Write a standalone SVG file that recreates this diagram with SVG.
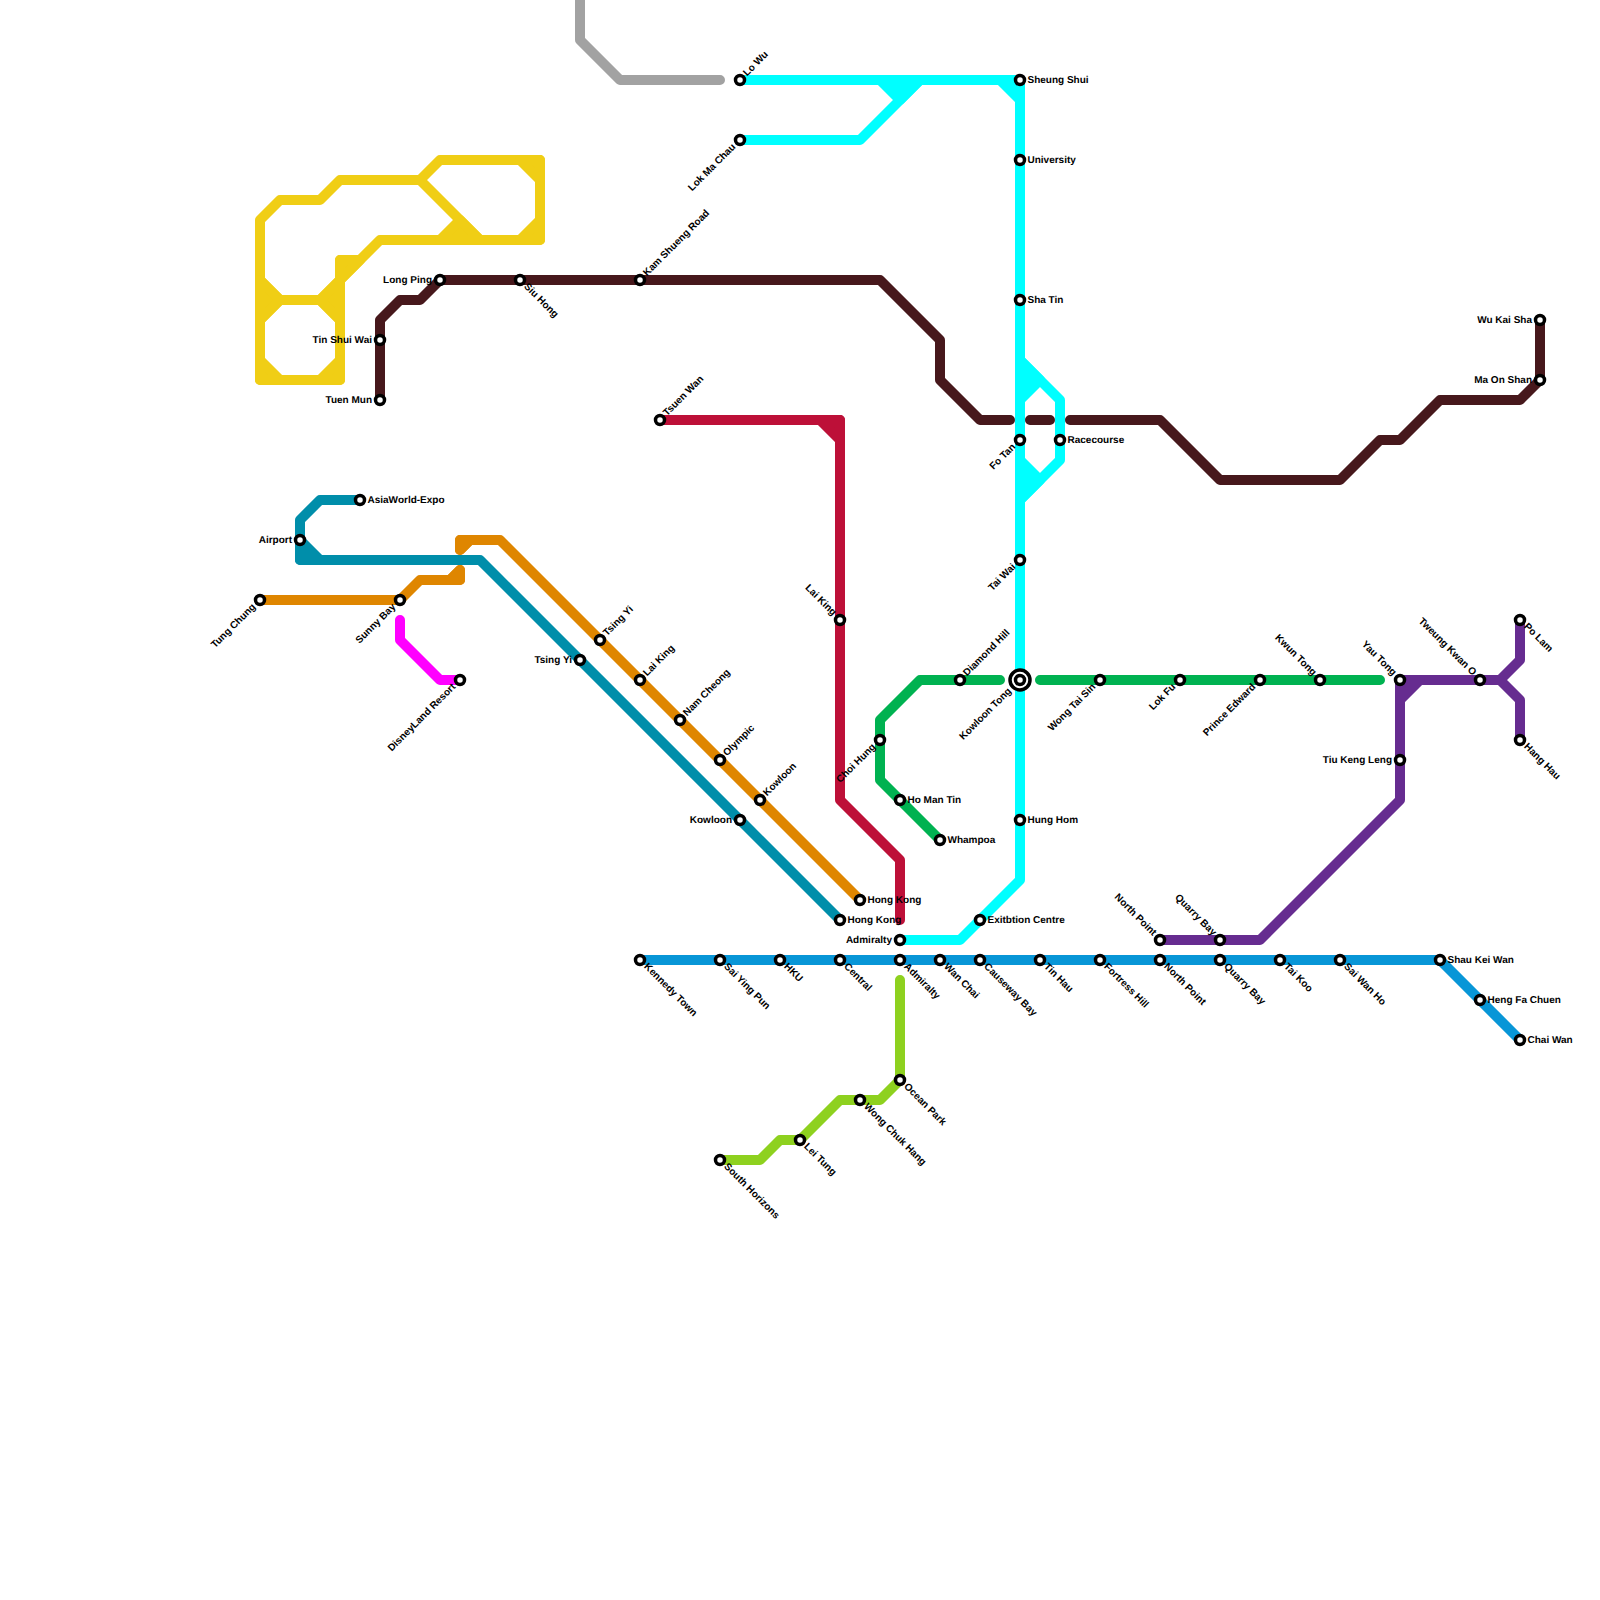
<svg xmlns="http://www.w3.org/2000/svg" width="1600" height="1600" viewBox="0 0 1600 1600">
<style>
.l{fill:none;stroke-width:10;stroke-linecap:round;stroke-linejoin:round}
.t{stroke-width:10;stroke-linejoin:round}
.s{fill:#fff;stroke:#000;stroke-width:3.5}
.h{fill:#fff;stroke:#000;stroke-width:3.5}
text{font-family:"Liberation Sans",Arial,sans-serif;font-size:10px;font-weight:700;fill:#000;text-rendering:geometricPrecision}
.e{text-anchor:end}
</style>
<rect width="1600" height="1600" fill="#fff"/>
<g id="connectors">
<path class="l" stroke="#a2a2a2" d="M580 0V40L620 80H720"/>
<path class="l" stroke="#f0ce15" d="M260 220L280 200H320L340 180H420L440 160H540V240H380L340 280V380H260ZM420 180L480 240M260 280L280 300H320L340 320M260 320L280 300M320 300L360 260H340V280"/>
<path class="t" stroke="#f0ce15" fill="#f0ce15" d="M440 240L460 220L480 240ZM520 160H540V180ZM540 220V240H520ZM260 280L280 300L260 320ZM320 300L340 280V320ZM340 260H360L340 280ZM260 360L280 380H260ZM320 380L340 360V380Z"/>
<path class="l" stroke="#47181c" d="M380 400V320L400 300H420L440 280H880L940 340V380L980 420H1010M1030 420H1050M1070 420H1160L1220 480H1340L1380 440H1400L1440 400H1520L1540 380V320"/>
<path class="l" stroke="#00ffff" d="M740 80H1020V880L960 940H900M740 140H860L920 80M1020 360L1060 400V460L1020 500"/>
<path class="t" stroke="#00ffff" fill="#00ffff" d="M880 80H920L900 100ZM1000 80H1020V100ZM1020 360L1040 380L1020 400ZM1020 460L1040 480L1020 500Z"/>
<path class="l" stroke="#bd1038" d="M660 420H840V800L900 860V920"/>
<path class="t" stroke="#bd1038" fill="#bd1038" d="M820 420H840V440Z"/>
<path class="l" stroke="#df8600" d="M860 900L500 540H460V550L470 540M260 600H400L420 580H460V570L450 580"/>
<path class="t" stroke="#df8600" fill="#df8600" d="M460 540H470L460 550ZM450 580L460 570V580Z"/>
<path class="l" stroke="#008eaa" d="M360 500H320L300 520V560H480L840 920"/>
<path class="t" stroke="#008eaa" fill="#008eaa" d="M300 540L320 560H300Z"/>
<path class="l" stroke="#ff00ff" d="M400 620V640L440 680H460"/>
<path class="l" stroke="#0896d7" d="M640 960H1440L1520 1040"/>
<path class="l" stroke="#8ed11f" d="M900 980V1080L880 1100H840L800 1140H780L760 1160H720"/>
<path class="l" stroke="#00b251" d="M1000 680H920L880 720V780L940 840M1040 680H1380"/>
<path class="l" stroke="#662c90" d="M1160 940H1260L1400 800V680H1500L1520 660V620M1500 680L1520 700V740"/>
<path class="t" stroke="#662c90" fill="#662c90" d="M1400 680H1420L1400 700Z"/>
</g>
<g id="s1"><circle class="s" cx="740" cy="80" r="4.5"/><text transform="translate(740 80) rotate(-45)" x="7.5" y="2.5">Lo Wu</text></g>
<g id="s2"><circle class="s" cx="740" cy="140" r="4.5"/><text class="e" transform="translate(740 140) rotate(-45)" x="-8" y="2.5">Lok Ma Chau</text></g>
<g id="s3"><circle class="s" cx="1020" cy="80" r="4.5"/><text x="1027.5" y="82.5">Sheung Shui</text></g>
<g id="s4"><circle class="s" cx="1020" cy="160" r="4.5"/><text x="1027.5" y="162.5">University</text></g>
<g id="s5"><circle class="s" cx="1020" cy="300" r="4.5"/><text x="1027.5" y="302.5">Sha Tin</text></g>
<g id="s6"><circle class="s" cx="1020" cy="440" r="4.5"/><text class="e" transform="translate(1020 440) rotate(-45)" x="-8" y="2.5">Fo Tan</text></g>
<g id="s7"><circle class="s" cx="1060" cy="440" r="4.5"/><text x="1067.5" y="442.5">Racecourse</text></g>
<g id="s8"><circle class="s" cx="1020" cy="560" r="4.5"/><text class="e" transform="translate(1020 560) rotate(-45)" x="-8" y="2.5">Tai Wai</text></g>
<g id="s9"><circle class="h" cx="1020" cy="680" r="10"/><circle class="s" cx="1020" cy="680" r="4.5"/><text class="e" transform="translate(1020 680) rotate(-45)" x="-14" y="2.5">Kowloon Tong</text></g>
<g id="s10"><circle class="s" cx="1020" cy="820" r="4.5"/><text x="1027.5" y="822.5">Hung Hom</text></g>
<g id="s11"><circle class="s" cx="980" cy="920" r="4.5"/><text x="987.5" y="922.5">Exitbtion Centre</text></g>
<g id="s12"><circle class="s" cx="900" cy="940" r="4.5"/><text class="e" x="892" y="942.5">Admiralty</text></g>
<g id="s13"><circle class="s" cx="960" cy="680" r="4.5"/><text transform="translate(960 680) rotate(-45)" x="7.5" y="2.5">Diamond Hill</text></g>
<g id="s14"><circle class="s" cx="880" cy="740" r="4.5"/><text class="e" transform="translate(880 740) rotate(-45)" x="-8" y="2.5">Choi Hung</text></g>
<g id="s15"><circle class="s" cx="900" cy="800" r="4.5"/><text x="907.5" y="802.5">Ho Man Tin</text></g>
<g id="s16"><circle class="s" cx="940" cy="840" r="4.5"/><text x="947.5" y="842.5">Whampoa</text></g>
<g id="s17"><circle class="s" cx="1100" cy="680" r="4.5"/><text class="e" transform="translate(1100 680) rotate(-45)" x="-8" y="2.5">Wong Tai Sin</text></g>
<g id="s18"><circle class="s" cx="1180" cy="680" r="4.5"/><text class="e" transform="translate(1180 680) rotate(-45)" x="-8" y="2.5">Lok Fu</text></g>
<g id="s19"><circle class="s" cx="1260" cy="680" r="4.5"/><text class="e" transform="translate(1260 680) rotate(-45)" x="-8" y="2.5">Prince Edward</text></g>
<g id="s20"><circle class="s" cx="1320" cy="680" r="4.5"/><text class="e" transform="translate(1320 680) rotate(45)" x="-8" y="2.5">Kwun Tong</text></g>
<g id="s21"><circle class="s" cx="1400" cy="680" r="4.5"/><text class="e" transform="translate(1400 680) rotate(45)" x="-8" y="2.5">Yau Tong</text></g>
<g id="s22"><circle class="s" cx="1400" cy="760" r="4.5"/><text class="e" x="1392" y="762.5">Tiu Keng Leng</text></g>
<g id="s23"><circle class="s" cx="1480" cy="680" r="4.5"/><text class="e" transform="translate(1480 680) rotate(45)" x="-8" y="2.5">Tweung Kwan O</text></g>
<g id="s24"><circle class="s" cx="1520" cy="620" r="4.5"/><text transform="translate(1520 620) rotate(45)" x="7.5" y="2.5">Po Lam</text></g>
<g id="s25"><circle class="s" cx="1520" cy="740" r="4.5"/><text transform="translate(1520 740) rotate(45)" x="7.5" y="2.5">Hang Hau</text></g>
<g id="s26"><circle class="s" cx="1540" cy="320" r="4.5"/><text class="e" x="1532" y="322.5">Wu Kai Sha</text></g>
<g id="s27"><circle class="s" cx="1540" cy="380" r="4.5"/><text class="e" x="1532" y="382.5">Ma On Shan</text></g>
<g id="s28"><circle class="s" cx="1160" cy="940" r="4.5"/><text class="e" transform="translate(1160 940) rotate(45)" x="-8" y="2.5">North Point</text></g>
<g id="s29"><circle class="s" cx="1220" cy="940" r="4.5"/><text class="e" transform="translate(1220 940) rotate(45)" x="-8" y="2.5">Quarry Bay</text></g>
<g id="s30"><circle class="s" cx="640" cy="960" r="4.5"/><text transform="translate(640 960) rotate(45)" x="7.5" y="2.5">Kennedy Town</text></g>
<g id="s31"><circle class="s" cx="720" cy="960" r="4.5"/><text transform="translate(720 960) rotate(45)" x="7.5" y="2.5">Sai Ying Pun</text></g>
<g id="s32"><circle class="s" cx="780" cy="960" r="4.5"/><text transform="translate(780 960) rotate(45)" x="7.5" y="2.5">HKU</text></g>
<g id="s33"><circle class="s" cx="840" cy="960" r="4.5"/><text transform="translate(840 960) rotate(45)" x="7.5" y="2.5">Central</text></g>
<g id="s34"><circle class="s" cx="900" cy="960" r="4.5"/><text transform="translate(900 960) rotate(45)" x="7.5" y="2.5">Admiralty</text></g>
<g id="s35"><circle class="s" cx="940" cy="960" r="4.5"/><text transform="translate(940 960) rotate(45)" x="7.5" y="2.5">Wan Chai</text></g>
<g id="s36"><circle class="s" cx="980" cy="960" r="4.5"/><text transform="translate(980 960) rotate(45)" x="7.5" y="2.5">Causeway Bay</text></g>
<g id="s37"><circle class="s" cx="1040" cy="960" r="4.5"/><text transform="translate(1040 960) rotate(45)" x="7.5" y="2.5">Tin Hau</text></g>
<g id="s38"><circle class="s" cx="1100" cy="960" r="4.5"/><text transform="translate(1100 960) rotate(45)" x="7.5" y="2.5">Fortress Hill</text></g>
<g id="s39"><circle class="s" cx="1160" cy="960" r="4.5"/><text transform="translate(1160 960) rotate(45)" x="7.5" y="2.5">North Point</text></g>
<g id="s40"><circle class="s" cx="1220" cy="960" r="4.5"/><text transform="translate(1220 960) rotate(45)" x="7.5" y="2.5">Quarry Bay</text></g>
<g id="s41"><circle class="s" cx="1280" cy="960" r="4.5"/><text transform="translate(1280 960) rotate(45)" x="7.5" y="2.5">Tai Koo</text></g>
<g id="s42"><circle class="s" cx="1340" cy="960" r="4.5"/><text transform="translate(1340 960) rotate(45)" x="7.5" y="2.5">Sai Wan Ho</text></g>
<g id="s43"><circle class="s" cx="1440" cy="960" r="4.5"/><text x="1447.5" y="962.5">Shau Kei Wan</text></g>
<g id="s44"><circle class="s" cx="1480" cy="1000" r="4.5"/><text x="1487.5" y="1002.5">Heng Fa Chuen</text></g>
<g id="s45"><circle class="s" cx="1520" cy="1040" r="4.5"/><text x="1527.5" y="1042.5">Chai Wan</text></g>
<g id="s46"><circle class="s" cx="900" cy="1080" r="4.5"/><text transform="translate(900 1080) rotate(45)" x="7.5" y="2.5">Ocean Park</text></g>
<g id="s47"><circle class="s" cx="860" cy="1100" r="4.5"/><text transform="translate(860 1100) rotate(45)" x="7.5" y="2.5">Wong Chuk Hang</text></g>
<g id="s48"><circle class="s" cx="800" cy="1140" r="4.5"/><text transform="translate(800 1140) rotate(45)" x="7.5" y="2.5">Lei Tung</text></g>
<g id="s49"><circle class="s" cx="720" cy="1160" r="4.5"/><text transform="translate(720 1160) rotate(45)" x="7.5" y="2.5">South Horizons</text></g>
<g id="s50"><circle class="s" cx="860" cy="900" r="4.5"/><text x="867.5" y="902.5">Hong Kong</text></g>
<g id="s51"><circle class="s" cx="840" cy="920" r="4.5"/><text x="847.5" y="922.5">Hong Kong</text></g>
<g id="s52"><circle class="s" cx="740" cy="820" r="4.5"/><text class="e" x="732" y="822.5">Kowloon</text></g>
<g id="s53"><circle class="s" cx="760" cy="800" r="4.5"/><text transform="translate(760 800) rotate(-45)" x="7.5" y="2.5">Kowloon</text></g>
<g id="s54"><circle class="s" cx="720" cy="760" r="4.5"/><text transform="translate(720 760) rotate(-45)" x="7.5" y="2.5">Olympic</text></g>
<g id="s55"><circle class="s" cx="680" cy="720" r="4.5"/><text transform="translate(680 720) rotate(-45)" x="7.5" y="2.5">Nam Cheong</text></g>
<g id="s56"><circle class="s" cx="640" cy="680" r="4.5"/><text transform="translate(640 680) rotate(-45)" x="7.5" y="2.5">Lai King</text></g>
<g id="s57"><circle class="s" cx="600" cy="640" r="4.5"/><text transform="translate(600 640) rotate(-45)" x="7.5" y="2.5">Tsing Yi</text></g>
<g id="s58"><circle class="s" cx="580" cy="660" r="4.5"/><text class="e" x="572" y="662.5">Tsing Yi</text></g>
<g id="s59"><circle class="s" cx="400" cy="600" r="4.5"/><text class="e" transform="translate(400 600) rotate(-45)" x="-8" y="2.5">Sunny Bay</text></g>
<g id="s60"><circle class="s" cx="260" cy="600" r="4.5"/><text class="e" transform="translate(260 600) rotate(-45)" x="-8" y="2.5">Tung Chung</text></g>
<g id="s61"><circle class="s" cx="460" cy="680" r="4.5"/><text class="e" transform="translate(460 680) rotate(-45)" x="-8" y="2.5">DisneyLand Resort</text></g>
<g id="s62"><circle class="s" cx="300" cy="540" r="4.5"/><text class="e" x="292" y="542.5">Airport</text></g>
<g id="s63"><circle class="s" cx="360" cy="500" r="4.5"/><text x="367.5" y="502.5">AsiaWorld-Expo</text></g>
<g id="s64"><circle class="s" cx="660" cy="420" r="4.5"/><text transform="translate(660 420) rotate(-45)" x="7.5" y="2.5">Tsuen Wan</text></g>
<g id="s65"><circle class="s" cx="840" cy="620" r="4.5"/><text class="e" transform="translate(840 620) rotate(45)" x="-8" y="2.5">Lai King</text></g>
<g id="s66"><circle class="s" cx="640" cy="280" r="4.5"/><text transform="translate(640 280) rotate(-45)" x="7.5" y="2.5">Kam Shueng Road</text></g>
<g id="s67"><circle class="s" cx="440" cy="280" r="4.5"/><text class="e" x="432" y="282.5">Long Ping</text></g>
<g id="s68"><circle class="s" cx="520" cy="280" r="4.5"/><text transform="translate(520 280) rotate(45)" x="7.5" y="2.5">Siu Hong</text></g>
<g id="s69"><circle class="s" cx="380" cy="340" r="4.5"/><text class="e" x="372" y="342.5">Tin Shui Wai</text></g>
<g id="s70"><circle class="s" cx="380" cy="400" r="4.5"/><text class="e" x="372" y="402.5">Tuen Mun</text></g>
</svg>
